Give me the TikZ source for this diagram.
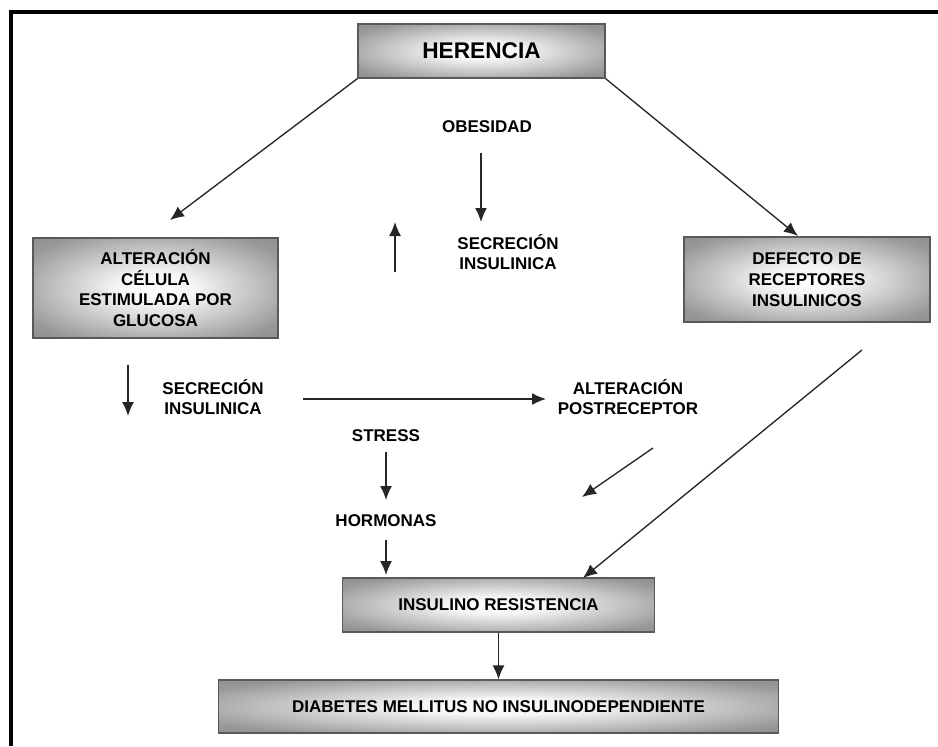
\documentclass[tikz,border=0pt]{standalone}
\usepackage{fontspec}
\setmainfont{Liberation Sans}
\usetikzlibrary{arrows.meta}
\pgfdeclareradialshading{boxshade}{\pgfpoint{0bp}{0bp}}{color(0bp)=(white); color(8bp)=(white!96!black); color(30bp)=(black!40); color(50bp)=(black!55)}
\tikzset{
  box/.style={draw=black!65, line width=1pt, shading=boxshade, inner sep=0pt, align=center, font=\bfseries\fontsize{12.75}{15.6}\selectfont},
  lbl/.style={inner sep=0pt, align=center, font=\bfseries\fontsize{12.75}{15.6}\selectfont},
  arr/.style={draw=black!85, line width=1pt, -{Latex[length=10.5pt,width=9pt]}},
  frame/.style={line width=3pt, black}
}
\begin{document}
\begin{tikzpicture}[x=0.75pt,y=-0.75pt]
\useasboundingbox (0,0) rectangle (938,746);
\fill[white] (0,0) rectangle (938,746);
% frame (top and left only)
\coordinate (fa) at (10.5,746);
\coordinate (fb) at (10.5,12);
\coordinate (fc) at (938,12);
\draw[frame] (fa) -- (fb) -- (fc);
% boxes
\node[box, minimum width=185.25pt, minimum height=40.5pt, font=\bfseries\fontsize{17}{20}\selectfont] (her) at (481.5,51) {HERENCIA};
\node[box, minimum width=183.75pt, minimum height=75pt] (alt) at (155.5,288) {ALTERACIÓN\\CÉLULA\\ESTIMULADA POR\\GLUCOSA};
\node[box, minimum width=184.5pt, minimum height=63.75pt] (def) at (807,279.5) {DEFECTO DE\\RECEPTORES\\INSULINICOS};
\node[box, minimum width=234pt, minimum height=40.5pt] (ins) at (498.5,605) {INSULINO RESISTENCIA};
\node[box, minimum width=420pt, minimum height=39.75pt] (dia) at (498.5,706.5) {DIABETES MELLITUS NO INSULINODEPENDIENTE};
% labels
\node[lbl] (obe) at (487,127) {OBESIDAD};
\node[lbl] (sec1) at (508,252) {SECRECIÓN\\INSULINICA};
\node[lbl] (sec2) at (213,397) {SECRECIÓN\\INSULINICA};
\node[lbl] (post) at (628,397) {ALTERACIÓN\\POSTRECEPTOR};
\node[lbl] (str) at (386,436) {STRESS};
\node[lbl] (hor) at (386,521) {HORMONAS};
% free arrow ends
\coordinate (a1) at (170,220);
\coordinate (a2) at (798,236);
\coordinate (o1) at (481,153);
\coordinate (o2) at (481,222);
\coordinate (u1) at (395,272);
\coordinate (u2) at (395,222);
\coordinate (l1) at (128,365);
\coordinate (l2) at (128,416);
\coordinate (h1) at (303,399);
\coordinate (h2) at (546,399);
\coordinate (s1) at (386,452);
\coordinate (s2) at (386,500);
\coordinate (m1) at (386,540);
\coordinate (m2) at (386,575);
\coordinate (d1) at (653,448);
\coordinate (d2) at (582,497);
\coordinate (g1) at (862,350);
\coordinate (g2) at (583,578);
% connectors
\draw[arr] (her.south west) -- (a1);
\draw[arr] (her.south east) -- (a2);
\draw[arr] (o1) -- (o2);
\draw[arr] (u1) -- (u2);
\draw[arr] (l1) -- (l2);
\draw[arr] (h1) -- (h2);
\draw[arr] (s1) -- (s2);
\draw[arr] (m1) -- (m2);
\draw[arr] (d1) -- (d2);
\draw[arr] (g1) -- (g2);
\draw[arr] (ins.south) -- (dia.north);
\end{tikzpicture}
\end{document}
